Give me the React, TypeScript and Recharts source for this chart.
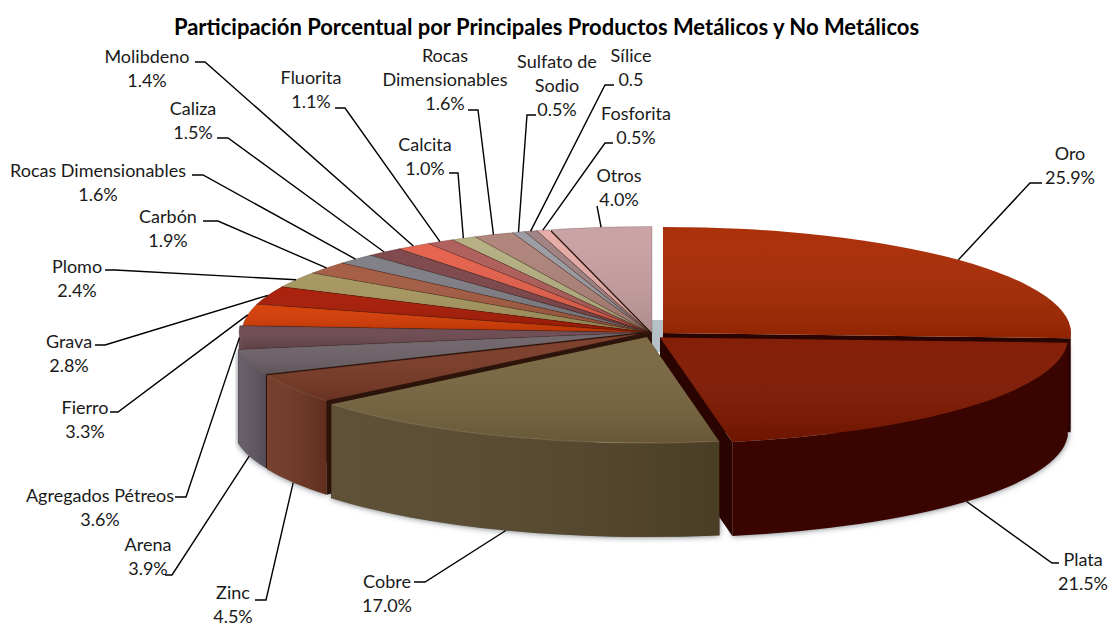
import React from 'react';
import { Pie, PieChart } from 'recharts';

const names = [
  'Oro', 'Plata', 'Cobre', 'Zinc', 'Arena', 'Agregados Pétreos', 'Fierro', 'Grava', 'Plomo', 'Carbón',
  'Rocas Dimensionables', 'Caliza', 'Molibdeno', 'Fluorita', 'Calcita', 'Rocas Dimensionables', 'Sulfato de Sodio',
  'Sílice', 'Fosforita', 'Otros',
];
const shares = [25.9, 21.5, 17.0, 4.5, 3.9, 3.6, 3.3, 2.8, 2.4, 1.9, 1.6, 1.5, 1.4, 1.1, 1.0, 1.6, 0.5, 0.5, 0.5, 4.0];
const labelLines = [
  ['Oro', '25.9%'], ['Plata', '21.5%'], ['Cobre', '17.0%'], ['Zinc', '4.5%'], ['Arena', '3.9%'],
  ['Agregados Pétreos', '3.6%'], ['Fierro', '3.3%'], ['Grava', '2.8%'], ['Plomo', '2.4%'], ['Carbón', '1.9%'],
  ['Rocas Dimensionables', '1.6%'], ['Caliza', '1.5%'], ['Molibdeno', '1.4%'], ['Fluorita', '1.1%'], ['Calcita', '1.0%'],
  ['Rocas', 'Dimensionables', '1.6%'], ['Sulfato de', 'Sodio', '0.5%'], ['Sílice', '0.5'], ['Fosforita', '0.5%'], ['Otros', '4.0%'],
];

const topColors = [
  '#a82a02', '#801800', '#786640', '#7a3a26', '#6d6268', '#6c4850', '#d63c04', '#a81a04', '#a6965e', '#a35a40',
  '#7e7c84', '#7c4448', '#e45f4a', '#ae5c58', '#b4ae80', '#ae8278', '#9a9aa2', '#a08080', '#e6aaa6', '#c8a0a2',
];
const wallColors = [
  '#3a0500', '#3a0500', '#54462a', '#6e3422', '#5e5660', '#5e4048', '#a83004', '#801404', '#857848', '#824830',
  '#605e66', '#603438', '#b04a3a', '#884846', '#8e8864', '#886660', '#7a7a82', '#806666', '#b88886', '#a08082',
];

// pixel shift of each slice away from the pie centre
const shiftX = [13, 10, -3, -8, -9, -3, 0, 0, 0, 0, 0, 0, 0, 0, 0, 0, 0, 0, 0, 2];
const shiftY = [0.5, 5, 4.5, 1, 0, 0, 0, 0, 0, 0, 0, 0, 0, 0, 0, 0, 0, 0, 0, 0];

// label placement: text centre, first line centre, then leader elbow and stub end
const labelX = [1070, 1083, 387, 233, 148, 100, 85, 69, 77, 168, 98, 193, 147, 311, 425, 445, 557, 631, 636, 619];
const labelY = [153, 559, 581, 592, 544, 495, 407, 341, 266, 216, 170, 108, 56, 77, 144, 55, 61, 55, 113, 175];
const elbowX = [1030, 1052, 425, 266, 172, 186, 118, 105, 115, 218, 203, 228, 205, 345, 458, 478, 527, 605, 605, 597];
const elbowY = [183, 563, 582, 600, 575, 497, 412, 345, 270, 221, 175, 138, 62, 108, 173, 110, 115, 85, 143, 206];
const stubX = [1042, 1059, 414, 255, 165, 175, 110, 95, 105, 203, 192, 217, 195, 335, 449, 468, 536, 614, 613, 597];

const CX = 650;
const CY = 332.5;
const RX = 408;
const TILT = 0.26;
const DEPTH = 94;

const rows = names.map((name, id) => ({ id, name, value: shares[id] }));
const backToFront = [...rows].reverse();

const rad = (deg: number) => (deg * Math.PI) / 180;

function slicePaths(props: any, id: number) {
  const cx = props.cx + shiftX[id];
  const cy = props.cy + shiftY[id];
  const rx = props.outerRadius;
  const ry = rx * TILT;
  const hi = Math.max(props.startAngle, props.endAngle);
  const lo = Math.min(props.startAngle, props.endAngle);
  const pt = (a: number, drop = 0) => `${cx + rx * Math.cos(rad(a))} ${cy - ry * Math.sin(rad(a)) + drop}`;
  const arc = `${rx} ${ry} 0 0`;

  const top = `M${cx} ${cy}L${pt(hi)}A${arc} 1 ${pt(lo)}Z`;
  const cut = (a: number) =>
    `M${cx} ${cy}L${pt(a)}L${pt(a, DEPTH)}L${cx} ${cy + DEPTH}Z`;

  // the outer wall only shows on the front half of the ellipse, where the sine is negative
  let wall = '';
  let rim = '';
  const fronts: [number, number][] = [
    [Math.min(hi, 0), Math.max(lo, -180)],
    [Math.min(hi, 360), Math.max(lo, 180)],
    [Math.min(hi, -360), Math.max(lo, -540)],
  ];
  fronts.forEach(([a, b]) => {
    if (a > b) {
      wall += `M${pt(a)}A${arc} 1 ${pt(b)}L${pt(b, DEPTH)}A${arc} 0 ${pt(a, DEPTH)}Z`;
      rim += `M${pt(a)}A${arc} 1 ${pt(b)}`;
    }
  });
  return { top, wall, rim, cutA: cut(hi), cutB: cut(lo), cx, cy };
}

function Slice3D({ sectorProps, id }: { sectorProps: any; id: number }) {
  const { top, wall, rim, cutA, cutB, cx, cy } = slicePaths(sectorProps, id);
  const cutFill = id < 3 ? '#2a0400' : '#2c140a';
  return (
    <g>
      {/* pale reflection seen in the gap behind Oro */}
      {id === 0 && <path d={`M${cx - 11} ${cy - 13}H${cx}V${cy + 19}H${cx - 11}Z`} fill="#b4c2c8" />}
      <path d={cutA} fill={cutFill} />
      <path d={cutB} fill={cutFill} />
      {wall && <path d={wall} fill={wallColors[id]} />}
      {wall && id > 1 && <path d={wall} fill="url(#wallSheen)" />}
      <path d={top} fill={topColors[id]} stroke={id > 2 ? 'rgba(45,20,10,0.35)' : 'none'} strokeWidth={0.6} />
      <path d={top} fill="url(#topSheen)" />
      {rim && id > 1 && <path d={rim} fill="none" stroke="rgba(255,240,210,0.18)" strokeWidth={1} />}
    </g>
  );
}

const sliceShape = (keep: (id: number) => boolean) => (props: any) => {
  const id = props.id ?? props.payload?.id;
  return keep(id) ? <Slice3D sectorProps={props} id={id} /> : <g />;
};

// soft shadow under the front walls only, the back of the pie has none
const shadowShape = (props: any) => {
  const id = props.id ?? props.payload?.id;
  const { wall } = slicePaths(props, id);
  return <g filter="url(#pieShadow)">{wall && <path d={wall} fill="#6b7278" />}</g>;
};

const renderLabel = (props: any) => {
  const id = props.index;
  const mid = (props.startAngle + props.endAngle) / 2;
  const cos = Math.cos(rad(mid));
  const sin = Math.sin(rad(mid));
  const ry = props.outerRadius * TILT;
  const drop = sin < -0.1 ? DEPTH : 0;
  const x0 = props.cx + shiftX[id] + props.outerRadius * cos;
  const y0 = props.cy + shiftY[id] - ry * sin + drop;
  return (
    <g key={id}>
      <polyline
        points={`${x0},${y0} ${elbowX[id]},${elbowY[id]} ${stubX[id]},${elbowY[id]}`}
        fill="none"
        stroke="#000000"
        strokeWidth={1.4}
      />
      <text x={labelX[id]} textAnchor="middle" fontSize={18} fill="#1a1a1a" fontFamily="Lato, sans-serif">
        {labelLines[id].map((line, i) => (
          <tspan key={i} x={labelX[id]} y={labelY[id] + i * 24.2} dominantBaseline="central">
            {line}
          </tspan>
        ))}
      </text>
    </g>
  );
};

const pieBase = {
  dataKey: 'value',
  nameKey: 'name',
  cx: CX,
  cy: CY,
  innerRadius: 0,
  outerRadius: RX,
  stroke: 'none',
  isAnimationActive: false,
  labelLine: false,
  label: false,
};

export default function App() {
  return (
    <div style={{ position: 'absolute', left: 0, top: 0, width: 1110, height: 627, background: '#ffffff' }}>
      <div
        style={{
          position: 'absolute',
          left: 0,
          top: 15,
          width: 1093,
          textAlign: 'center',
          fontFamily: 'Lato, sans-serif',
          fontWeight: 700,
          fontSize: 22,
          lineHeight: '24px',
          color: '#000000',
          whiteSpace: 'nowrap',
        }}
      >
        Participación Porcentual por Principales Productos Metálicos y No Metálicos
      </div>
      <PieChart width={1110} height={627} margin={{ top: 0, right: 0, bottom: 0, left: 0 }}>
        <defs>
          <linearGradient id="topSheen" x1="0" y1="0" x2="0" y2="1">
            <stop offset="0%" stopColor="#ffffff" stopOpacity={0.03} />
            <stop offset="100%" stopColor="#000000" stopOpacity={0.14} />
          </linearGradient>
          <linearGradient id="wallSheen" x1="0" y1="0" x2="1" y2="0">
            <stop offset="0%" stopColor="#ffffff" stopOpacity={0.06} />
            <stop offset="100%" stopColor="#000000" stopOpacity={0.12} />
          </linearGradient>
          <filter id="pieShadow" x="-10%" y="-10%" width="120%" height="130%">
            <feGaussianBlur stdDeviation="3" />
          </filter>
        </defs>
        <Pie {...pieBase} data={rows} startAngle={90} endAngle={-270} opacity={0.5} shape={shadowShape} />
        <Pie {...pieBase} data={rows} startAngle={90} endAngle={-270} shape={sliceShape((id) => id < 2)} />
        <Pie {...pieBase} data={backToFront} startAngle={90} endAngle={450} shape={sliceShape((id) => id >= 2)} />
        <Pie {...pieBase} data={rows} startAngle={90} endAngle={-270} shape={() => <g />} label={renderLabel} />
      </PieChart>
    </div>
  );
}
